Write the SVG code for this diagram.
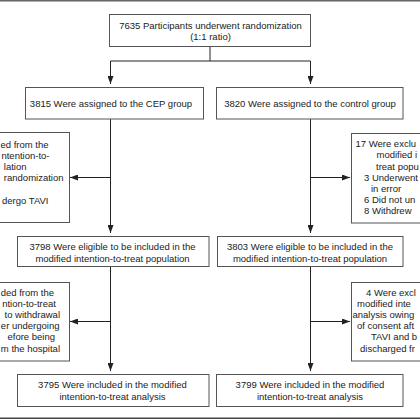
<svg xmlns="http://www.w3.org/2000/svg" width="420" height="420" viewBox="0 0 420 420">
<defs>
<marker id="ah" viewBox="0 0 8 6" refX="8" refY="3" markerWidth="8" markerHeight="6" markerUnits="userSpaceOnUse" orient="auto">
<path d="M0,0 L8,3 L0,6 Z" fill="#222"/>
</marker>
<style>
.box{fill:#fff;stroke:#555;stroke-width:1}
.t{font-family:"Liberation Sans",Arial,sans-serif;font-size:9.5px;fill:#222}
.c{text-anchor:middle}
.e{text-anchor:end}
.ln{fill:none;stroke:#222;stroke-width:1}
.ar{fill:none;stroke:#222;stroke-width:1;marker-end:url(#ah)}
</style>
</defs>
<rect width="420" height="420" fill="#fff"/>
<line x1="0" y1="0.7" x2="420" y2="0.7" stroke="#666" stroke-width="1.5"/>
<line x1="0" y1="418.3" x2="420" y2="418.3" stroke="#444" stroke-width="1.6"/>

<g id="connectors">
<path class="ln" d="M210,46.5 V61 M110.5,61 H310.5"/>
<path class="ar" d="M110.5,61 V84"/>
<path class="ar" d="M310.5,61 V84"/>
<path class="ar" d="M110.5,119 V233"/>
<path class="ar" d="M110.5,177.5 H70"/>
<path class="ar" d="M310.5,119 V233"/>
<path class="ar" d="M310.5,177.5 H350"/>
<path class="ar" d="M110.5,266.5 V371"/>
<path class="ar" d="M110.5,321.5 H70"/>
<path class="ar" d="M310.5,266.5 V371"/>
<path class="ar" d="M310.5,321.5 H350"/>
</g>

<g id="n_random">
<rect class="box" x="109.5" y="14.5" width="201" height="32"/>
<text class="t c" x="210.5" y="28.5">7635 Participants underwent randomization</text>
<text class="t c" x="210.5" y="39.5">(1:1 ratio)</text>
</g>

<g id="n_cep">
<rect class="box" x="25.5" y="87.5" width="178" height="31.5"/>
<text class="t c" x="111" y="106.5">3815 Were assigned to the CEP group</text>
</g>

<g id="n_control">
<rect class="box" x="216.5" y="87.5" width="186.5" height="31.5"/>
<text class="t c" x="310" y="106.5">3820 Were assigned to the control group</text>
</g>

<g id="n_excl_cep">
<rect class="box" x="-10" y="132.5" width="79.5" height="90"/>
<text class="t e" x="48.5" y="147.5">ed from the</text>
<text class="t e" x="49.5" y="158.5">ntention-to-</text>
<text class="t e" x="26.5" y="169.5">lation</text>
<text class="t e" x="63.5" y="181">randomization</text>
<text class="t e" x="48.5" y="204">dergo TAVI</text>
</g>

<g id="n_excl_control">
<rect class="box" x="351.5" y="133.5" width="80" height="89.5"/>
<text class="t" x="355.5" y="147">17 Were exclu</text>
<text class="t" x="376.5" y="158">modified i</text>
<text class="t" x="376" y="169.5">treat popu</text>
<text class="t" x="364" y="180.5">3 Underwent</text>
<text class="t" x="371" y="191.5">in error</text>
<text class="t" x="364" y="203">6 Did not un</text>
<text class="t" x="364" y="214">8 Withdrew</text>
</g>

<g id="n_elig_cep">
<rect class="box" x="17.5" y="236.5" width="191.5" height="30"/>
<text class="t c" x="112.5" y="250">3798 Were eligible to be included in the</text>
<text class="t c" x="112.5" y="261.5">modified intention-to-treat population</text>
</g>

<g id="n_elig_control">
<rect class="box" x="217.5" y="236.5" width="185.5" height="30"/>
<text class="t c" x="310" y="250">3803 Were eligible to be included in the</text>
<text class="t c" x="310" y="261.5">modified intention-to-treat population</text>
</g>

<g id="n_excl2_cep">
<rect class="box" x="-10" y="282.5" width="79.5" height="78.5"/>
<text class="t e" x="54" y="295.5">ded from the</text>
<text class="t e" x="56" y="306.5">ntion-to-treat</text>
<text class="t e" x="60" y="318">to withdrawal</text>
<text class="t e" x="59.5" y="329">er undergoing</text>
<text class="t e" x="55" y="340">efore being</text>
<text class="t e" x="60" y="351.5">m the hospital</text>
</g>

<g id="n_excl2_control">
<rect class="box" x="351.5" y="282.5" width="80" height="78.5"/>
<text class="t" x="366" y="295.5">4 Were excl</text>
<text class="t" x="357" y="306.5">modified inte</text>
<text class="t" x="352.5" y="318">analysis owing</text>
<text class="t" x="357" y="329">of consent aft</text>
<text class="t" x="371" y="340">TAVI and b</text>
<text class="t" x="360" y="351.5">discharged fr</text>
</g>

<g id="n_incl_cep">
<rect class="box" x="17.5" y="374.5" width="191.5" height="32"/>
<text class="t c" x="112.5" y="388">3795 Were included in the modified</text>
<text class="t c" x="112.5" y="399.5">intention-to-treat analysis</text>
</g>

<g id="n_incl_control">
<rect class="box" x="216.5" y="374.5" width="186.5" height="32"/>
<text class="t c" x="310" y="388">3799 Were included in the modified</text>
<text class="t c" x="310" y="399.5">intention-to-treat analysis</text>
</g>
</svg>
